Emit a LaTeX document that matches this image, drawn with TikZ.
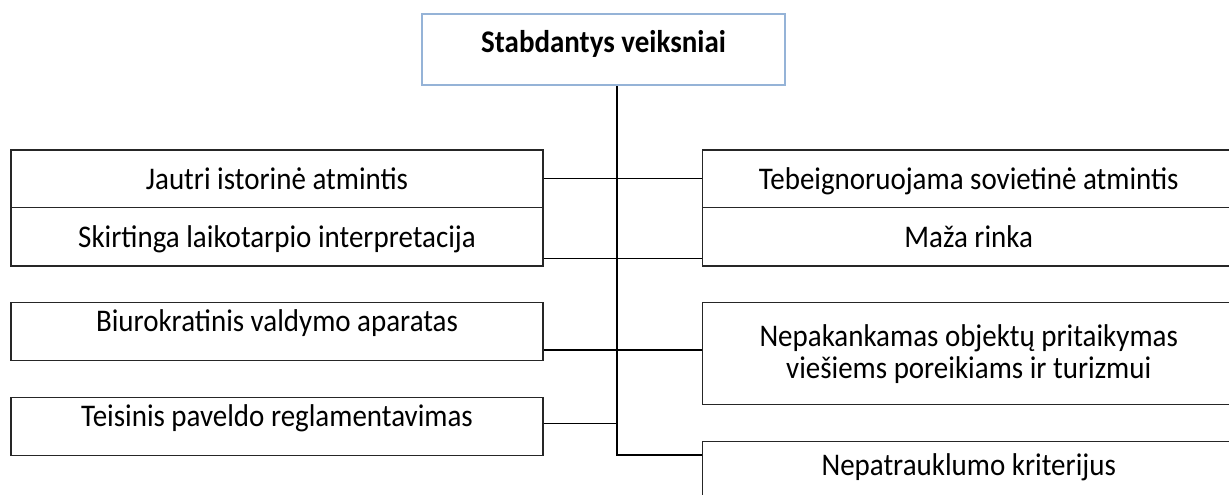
\documentclass[tikz,border=0pt]{standalone}
\usepackage{fontspec}
\setmainfont{Carlito}[FakeStretch=0.92]
\usetikzlibrary{positioning, calc}
\definecolor{frameblue}{RGB}{149,179,215}

\begin{document}
\begin{tikzpicture}[
  x=1pt, y=-1pt,
  font=\fontsize{31.5}{32}\selectfont,
  head/.style={draw=frameblue, line width=2.3pt, minimum width=363pt, minimum height=71pt,
    inner sep=0pt, text height=13pt, text depth=6pt, font=\fontsize{31.5}{32}\selectfont\bfseries},
  cell/.style={draw=black!85, line width=1.1pt, minimum width=532pt, inner sep=0pt, align=center},
  mid/.style={cell, text height=21pt, text depth=0pt},
  high/.style={cell, text height=10pt, text depth=10pt},
  link/.style={draw=black, line width=1.5pt}
]
\useasboundingbox (0,0) rectangle (1229,495);
\clip (0,0) rectangle (1229,495);

% --- the heading box and the spine under it ---
\node[head] (title) at (603.5,49.5) {Stabdantys veiksniai};
\coordinate (spine) at (617,0);

% --- left column ---
\node[mid, minimum height=57.3pt]  (l1) at (277,178.65) {Jautri istorinė atmintis};
\node[mid, minimum height=58.7pt]  (l2) at (277,236.65) {Skirtinga laikotarpio interpretacija};
\node[high, minimum height=58pt]   (l3) at (277,331.7)  {Biurokratinis valdymo aparatas};
\node[high, minimum height=58.4pt] (l4) at (277,426.5)  {Teisinis paveldo reglamentavimas};

% --- right column (runs past the page edge) ---
\node[mid, minimum height=57.3pt] (r1) at (968.7,178.65) {Tebeignoruojama sovietinė atmintis};
\node[mid, minimum height=58.7pt] (r2) at (968.7,236.65) {Maža rinka};
\node[cell, minimum height=102pt] (r3) at (968.7,353.7)
  {Nepakankamas objektų pritaikymas\\viešiems poreikiams ir turizmui};
\node[cell, minimum height=58pt, text height=15.4pt, text depth=6pt] (r4) at (968.7,470.3)
  {Nepatrauklumo kriterijus};

% spine down from the heading, turning into the last box
\draw[link] (title.south -| spine) |- ([yshift=-14.4pt]r4.north west);

% cross links between the columns
\draw[link] (l1.east) -- (r1.west);
\draw[link] ([yshift=8pt]l2.south east) -- ([yshift=8pt]r2.south west);
\draw[link] ([yshift=11.4pt]l3.south east) -- ([yshift=11.4pt]l3.south east -| r3.west);
\draw[link] ([yshift=3.2pt]l4.east) -- ([yshift=3.2pt]l4.east -| spine);

\end{tikzpicture}
\end{document}
